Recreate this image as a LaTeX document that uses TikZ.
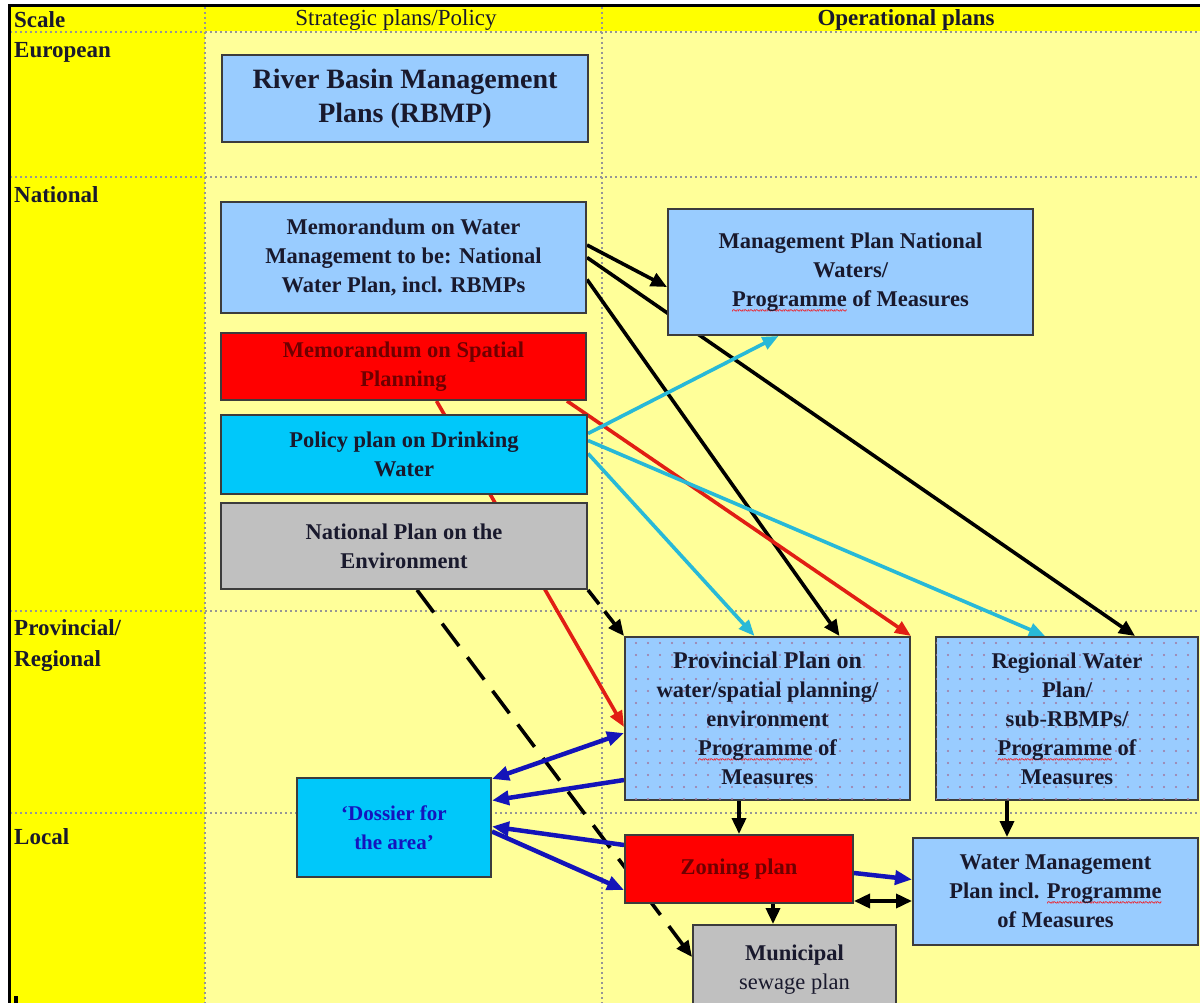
\documentclass[tikz,border=0pt]{standalone}
\usepackage{fontspec}
\setmainfont{Liberation Serif}
\usetikzlibrary{arrows.meta,patterns.meta,calc}
\pgfdeclarelayer{gridlayer}
\pgfdeclarelayer{linklayer}
\pgfsetlayers{gridlayer,linklayer,main}
\definecolor{hdr}{RGB}{255,255,0}
\definecolor{bgyel}{RGB}{255,255,153}
\definecolor{lblue}{RGB}{153,204,255}
\definecolor{rred}{RGB}{255,0,0}
\definecolor{ccyan}{RGB}{0,200,250}
\definecolor{ggray}{RGB}{192,192,192}
\definecolor{ink}{RGB}{25,25,45}
\definecolor{dred}{RGB}{110,0,0}
\definecolor{dblue}{RGB}{20,20,190}
\definecolor{arcyan}{RGB}{40,185,215}
\definecolor{arred}{RGB}{225,30,20}
\definecolor{arblue}{RGB}{20,20,185}
\definecolor{gridc}{RGB}{150,150,150}
\definecolor{border}{RGB}{60,60,60}
\definecolor{dotc}{RGB}{160,120,160}
\newlength\wavelen
\newcommand{\redwave}[1]{\settowidth{\wavelen}{#1}%
  \rlap{\raisebox{-8pt}[0pt][0pt]{\color{red}\fontsize{11}{11}\selectfont\bfseries\xleaders\hbox{\char"7E}\hskip\wavelen}}#1}
\begin{document}
\begin{tikzpicture}[x=1pt,y=-1pt,
  box/.style={draw=border, line width=2pt, fill=lblue, text=ink, align=center, inner sep=0pt,
    font=\bfseries\fontsize{22.5}{29}\selectfont},
  dotbox/.style={box, postaction={pattern={Dots[distance=12pt,radius=1.1pt]}, pattern color=dotc}},
  lab/.style={anchor=west, text=ink, font=\bfseries\fontsize{23}{31}\selectfont, align=left, inner sep=0pt},
  gridline/.style={draw=gridc, line width=1.6pt, dash pattern=on 2pt off 3pt},
  blk/.style={draw=black, line width=3.6pt, -{Triangle[length=16pt,width=14pt]}},
  rdl/.style={draw=arred, line width=3.6pt, -{Triangle[length=16pt,width=13pt]}},
  cyl/.style={draw=arcyan, line width=3.6pt, -{Triangle[length=16pt,width=13pt]}},
  bll/.style={draw=arblue, line width=4.5pt},
  btip/.style={-{Triangle[length=17pt,width=14pt]}},
  ]
\useasboundingbox (0,0) rectangle (1200,1003);
\clip (0,0) rectangle (1200,1003);

% ---------- labels ----------
\node[lab] (lscale) at (14,20) {Scale};
\node[lab] (leuro) at (14,52) {European};
\node[lab] (lnat) at (14,195) {National};
\node[lab] (lprov) at (14,646) {Provincial/\\Regional};
\node[lab] (lloc) at (14,837) {Local};
\node[text=ink, font=\fontsize{23}{27}\selectfont, inner sep=0pt] (hstrat) at (396,20) {Strategic plans/Policy};
\node[text=ink, font=\bfseries\fontsize{23}{27}\selectfont, inner sep=0pt] (hop) at (906,20) {Operational plans};

% ---------- boxes ----------
\node[box, minimum width=366pt, minimum height=87pt, font=\bfseries\fontsize{28}{34}\selectfont] (rbmp) at (405,98.5)
  {River Basin Management\\Plans (RBMP)};
\node[box, minimum width=365pt, minimum height=111pt] (memw) at (403.5,257.5)
  {Memorandum on Water\\Management to be: National\\Water Plan, incl. RBMPs};
\node[box, fill=rred, text=dred, minimum width=365pt, minimum height=67pt] (mems) at (403.5,366.5)
  {Memorandum on Spatial\\Planning};
\node[box, fill=ccyan, minimum width=366pt, minimum height=79pt] (pol) at (404,454.5)
  {Policy plan on Drinking\\Water};
\node[box, fill=ggray, minimum width=366pt, minimum height=86pt] (env) at (404,546)
  {National Plan on the\\Environment};
\node[box, minimum width=365pt, minimum height=126pt] (mgmt) at (850.5,272)
  {Management Plan National\\Waters/\\\redwave{Programme} of Measures};
\node[dotbox, minimum width=285pt, minimum height=163pt] (prov) at (767.5,718.5)
  {{\fontsize{24}{29}\selectfont Provincial Plan on}\\water/spatial planning/\\environment\\\redwave{Programme} of\\Measures};
\node[dotbox, minimum width=262pt, minimum height=163pt] (reg) at (1067,718.5)
  {Regional Water\\Plan/\\sub-RBMPs/\\\redwave{Programme} of\\Measures};
\node[box, fill=ccyan, text=dblue, minimum width=194pt, minimum height=99pt, font=\bfseries\fontsize{21}{29}\selectfont] (dos) at (394,827.5)
  {‘Dossier for\\the area’};
\node[box, fill=rred, text=dred, minimum width=228pt, minimum height=68pt] (zon) at (739,869)
  {Zoning plan};
\node[box, minimum width=285pt, minimum height=107pt] (wmp) at (1055.5,891.5)
  {Water Management\\Plan incl. \redwave{Programme}\\of Measures};
\node[box, fill=ggray, minimum width=203pt, minimum height=90pt] (mun) at (794.5,970)
  {Municipal\\{\mdseries sewage plan}};

% ---------- background and grid ----------
\begin{pgfonlayer}{gridlayer}
\fill[white] (0,0) rectangle (1200,1003);
\fill[hdr] (9,6) rectangle (1200,31);
\fill[hdr] (9,6) rectangle (205,1003);
\fill[bgyel] (205,31) rectangle (1200,1003);
\foreach \yy in {32,177,611,813} \draw[gridline] (10,\yy) -- (1200,\yy);
\foreach \xx in {205,602} \draw[gridline] (\xx,7) -- (\xx,1003);
\draw[black, line width=3pt] (9,1003) -- (9,6) -- (1200,6);
\fill[black] (14,996) rectangle (18,1003);
\end{pgfonlayer}

% ---------- connectors ----------
\begin{pgfonlayer}{linklayer}
% black
\draw[blk] ($(memw.east)+(0,-12.5)$) -- ($(mgmt.west)+(0,15)$);
\draw[blk] ($(memw.east)+(0,0)$) -- ($(reg.north)+(68,0)$);
\draw[blk] ($(memw.east)+(0,22)$) -- ($(prov.north)+(72,0)$);
\draw[blk, dash pattern=on 28pt off 14pt] ($(env.south)+(13,0)$) -- ($(mun.west)+(0,-13)$);
\draw[blk, dash pattern=on 18pt off 9pt] (env.south east) -- (prov.north west);
\draw[blk] (prov.south -| zon.north) -- (zon.north);
\draw[blk] ($(reg.south)+(-60,0)$) -- ($(wmp.north)+(-48.5,0)$);
\draw[blk] ($(zon.south)+(34,0)$) -- ($(mun.north)+(-21.5,0)$);
\draw[black, line width=3.6pt, {Triangle[length=16pt,width=14pt]}-{Triangle[length=16pt,width=14pt]}]
  ($(zon.south east)+(0,-3)$) -- ($(wmp.west)+(0,9.5)$);
% red
\draw[rdl] ($(mems.south)+(33,0)$) -- ($(prov.west)+(0,8.5)$);
\draw[rdl] ($(mems.south east)+(-20,0)$) -- (prov.north east);
% cyan
\draw[cyl] ($(pol.east)+(0,-21)$) -- ($(mgmt.south)+(-72,0)$);
\draw[cyl] ($(pol.east)+(0,-14)$) -- ($(reg.north)+(-22,0)$);
\draw[cyl] ($(pol.east)+(0,-1)$) -- ($(prov.north)+(-13,0)$);
% blue
\draw[bll, {Triangle[length=17pt,width=14pt]}-{Triangle[length=17pt,width=14pt]}]
  ($(dos.north east)+(0,2)$) -- ($(prov.west)+(0,14.5)$);
\draw[bll, {Triangle[length=17pt,width=14pt]}-] ($(dos.east)+(0,-27)$) -- ($(prov.west)+(0,61.5)$);
\draw[bll, {Triangle[length=17pt,width=14pt]}-] ($(dos.east)+(0,-1)$) -- ($(zon.west)+(0,-24)$);
\draw[bll, btip] ($(dos.east)+(0,4)$) -- ($(zon.west)+(0,21)$);
\draw[bll, btip] ($(zon.east)+(0,4)$) -- ($(wmp.west)+(0,-12)$);
\end{pgfonlayer}
\end{tikzpicture}
\end{document}
